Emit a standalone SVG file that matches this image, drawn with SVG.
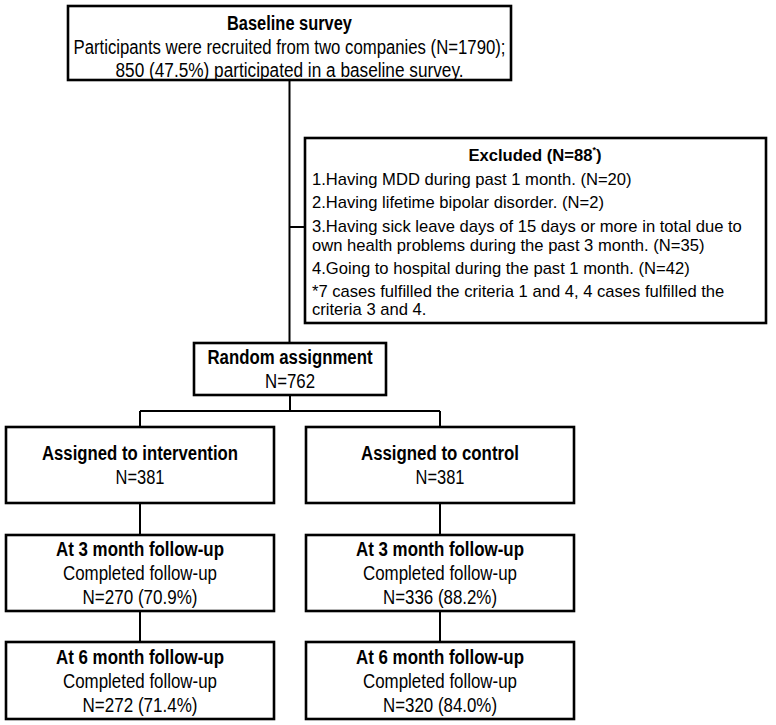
<svg xmlns="http://www.w3.org/2000/svg" width="776" height="725" viewBox="0 0 776 725">
<style>
.box{fill:#fff;stroke:#000;stroke-width:2.6}
.n{font-family:"Liberation Sans",Arial,sans-serif;font-size:20px;fill:#000;text-anchor:middle;dominant-baseline:central}
.b{font-weight:bold}
.e{font-family:"Liberation Sans",Arial,sans-serif;font-size:16.6px;fill:#000;dominant-baseline:central}
.c{fill:none;stroke:#000;stroke-width:2}
</style>
<rect width="776" height="725" fill="#fff"/>
<g id="connectors">
<path class="c" d="M289.5 80V343M289.5 227H305M290 395V411M140 411H440M140 411V427M440 411V427M140 503V535M440 503V535M140 611V642M440 611V642"/>
</g>
<g id="baseline">
<rect class="box" x="68" y="6" width="443" height="74"/>
<text class="n b" x="289.5" y="22.5" textLength="125" lengthAdjust="spacingAndGlyphs">Baseline survey</text>
<text class="n" x="289.5" y="47" textLength="432" lengthAdjust="spacingAndGlyphs">Participants were recruited from two companies (N=1790);</text>
<text class="n" x="289.5" y="70" textLength="348" lengthAdjust="spacingAndGlyphs">850 (47.5%) participated in a baseline survey.</text>
</g>
<g id="excluded">
<rect class="box" x="305" y="138" width="461" height="185"/>
<text class="e b" x="535" y="155" text-anchor="middle">Excluded (N=88<tspan font-size="9" dy="-5">*</tspan><tspan dy="5">)</tspan></text>
<text class="e" x="312" y="179">1.Having MDD during past 1 month. (N=20)</text>
<text class="e" x="312" y="202">2.Having lifetime bipolar disorder. (N=2)</text>
<text class="e" x="312" y="226">3.Having sick leave days of 15 days or more in total due to</text>
<text class="e" x="312" y="245">own health problems during the past 3 month. (N=35)</text>
<text class="e" x="312" y="268.5">4.Going to hospital during the past 1 month. (N=42)</text>
<text class="e" x="312" y="291.5">*7 cases fulfilled the criteria 1 and 4, 4 cases fulfilled the</text>
<text class="e" x="312" y="309.5">criteria 3 and 4.</text>
</g>
<g id="random">
<rect class="box" x="194" y="343" width="192" height="52"/>
<text class="n b" x="290" y="357" textLength="165" lengthAdjust="spacingAndGlyphs">Random assignment</text>
<text class="n" x="290" y="381" textLength="50" lengthAdjust="spacingAndGlyphs">N=762</text>
</g>
<g id="intervention">
<rect class="box" x="6" y="427" width="268" height="76"/>
<text class="n b" x="140" y="453" textLength="196" lengthAdjust="spacingAndGlyphs">Assigned to intervention</text>
<text class="n" x="140" y="477" textLength="49" lengthAdjust="spacingAndGlyphs">N=381</text>
</g>
<g id="control">
<rect class="box" x="306" y="427" width="268" height="76"/>
<text class="n b" x="440" y="453" textLength="158" lengthAdjust="spacingAndGlyphs">Assigned to control</text>
<text class="n" x="440" y="477" textLength="49" lengthAdjust="spacingAndGlyphs">N=381</text>
</g>
<g id="int3">
<rect class="box" x="6" y="535" width="268" height="76"/>
<text class="n b" x="140" y="549" textLength="168" lengthAdjust="spacingAndGlyphs">At 3 month follow-up</text>
<text class="n" x="140" y="573" textLength="154" lengthAdjust="spacingAndGlyphs">Completed follow-up</text>
<text class="n" x="140" y="597" textLength="115" lengthAdjust="spacingAndGlyphs">N=270 (70.9%)</text>
</g>
<g id="con3">
<rect class="box" x="306" y="535" width="268" height="76"/>
<text class="n b" x="440" y="549" textLength="168" lengthAdjust="spacingAndGlyphs">At 3 month follow-up</text>
<text class="n" x="440" y="573" textLength="154" lengthAdjust="spacingAndGlyphs">Completed follow-up</text>
<text class="n" x="440" y="597" textLength="114" lengthAdjust="spacingAndGlyphs">N=336 (88.2%)</text>
</g>
<g id="int6">
<rect class="box" x="6" y="642" width="268" height="77"/>
<text class="n b" x="140" y="657" textLength="168" lengthAdjust="spacingAndGlyphs">At 6 month follow-up</text>
<text class="n" x="140" y="681" textLength="154" lengthAdjust="spacingAndGlyphs">Completed follow-up</text>
<text class="n" x="140" y="705" textLength="115" lengthAdjust="spacingAndGlyphs">N=272 (71.4%)</text>
</g>
<g id="con6">
<rect class="box" x="306" y="642" width="268" height="77"/>
<text class="n b" x="440" y="657" textLength="168" lengthAdjust="spacingAndGlyphs">At 6 month follow-up</text>
<text class="n" x="440" y="681" textLength="154" lengthAdjust="spacingAndGlyphs">Completed follow-up</text>
<text class="n" x="440" y="705" textLength="114" lengthAdjust="spacingAndGlyphs">N=320 (84.0%)</text>
</g>
</svg>
